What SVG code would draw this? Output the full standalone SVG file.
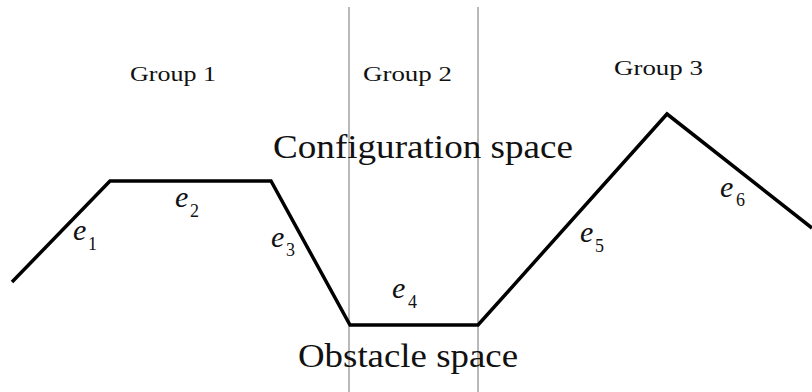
<svg xmlns="http://www.w3.org/2000/svg" width="812" height="392" viewBox="0 0 812 392">
<style>
.grp{font-family:"Liberation Serif","DejaVu Serif",serif;font-size:20px;fill:#111}
.big{font-family:"Liberation Serif",serif;font-size:34px;fill:#111}
.e{font-family:"Liberation Serif",serif;font-style:italic;font-size:30px;fill:#111}
.sub{font-family:"Liberation Serif",serif;font-size:18px;fill:#111}
.div{stroke:#8a8a8a;stroke-width:1.2;fill:none}
.path{stroke:#000;stroke-width:3.5;fill:none;stroke-linejoin:miter}
</style>
<rect width="812" height="392" fill="#fff"/>
<g id="dividers">
<line class="div" x1="349" y1="7" x2="349" y2="392"/>
<line class="div" x1="478" y1="7" x2="478" y2="392"/>
</g>
<g id="group-labels">
<text class="grp" x="130" y="81" textLength="86" lengthAdjust="spacingAndGlyphs">Group 1</text>
<text class="grp" x="363" y="81" textLength="89" lengthAdjust="spacingAndGlyphs">Group 2</text>
<text class="grp" x="614" y="75" textLength="89" lengthAdjust="spacingAndGlyphs">Group 3</text>
</g>
<g id="space-labels">
<text class="big" x="273" y="158" textLength="300" lengthAdjust="spacingAndGlyphs">Configuration space</text>
<text class="big" x="298" y="367" textLength="220" lengthAdjust="spacingAndGlyphs">Obstacle space</text>
</g>
<g id="connectors">
<polyline class="path" points="12,282 110,181 271,181 350,325 478,325 667,114 812,228"/>
</g>
<g id="edge-labels">
<text class="e" x="73" y="240">e</text><text class="sub" x="88" y="250">1</text>
<text class="e" x="175" y="207">e</text><text class="sub" x="190" y="217">2</text>
<text class="e" x="271" y="247">e</text><text class="sub" x="286" y="256">3</text>
<text class="e" x="392" y="298">e</text><text class="sub" x="408" y="308">4</text>
<text class="e" x="580" y="242">e</text><text class="sub" x="595" y="252">5</text>
<text class="e" x="720" y="197">e</text><text class="sub" x="736" y="206">6</text>
</g>
</svg>
